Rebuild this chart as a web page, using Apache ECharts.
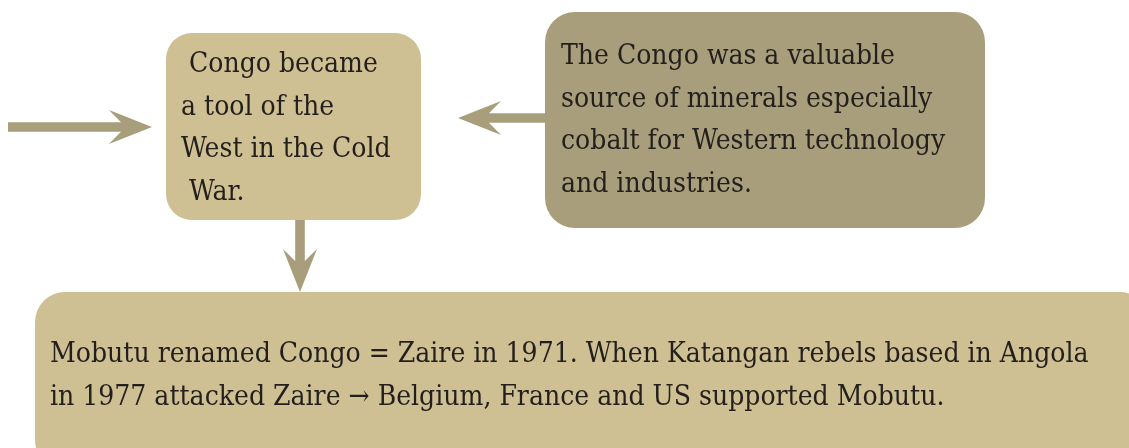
<!doctype html>
<html>
<head>
<meta charset="UTF-8">
<title>Congo</title>
<script src="https://cdn.jsdelivr.net/npm/echarts@6/dist/echarts.min.js"></script>
<style>
  html, body { margin: 0; padding: 0; background: #fff; }
  #main { width: 1129px; height: 448px; }
</style>
</head>
<body>
<div id="main"></div>
<script>
// text of each box, one entry per line
var boxNames = ['tool', 'minerals', 'zaire'];
var toolLines = [' Congo became', 'a tool of the', 'West in the Cold', ' War.'];
var mineralLines = ['The Congo was a valuable', 'source of minerals especially', 'cobalt for Western technology', 'and industries.'];
var zaireLines = ['Mobutu renamed Congo = Zaire in 1971. When Katangan rebels based in Angola',
                  'in 1977 attacked Zaire \u2192 Belgium, France and US supported Mobutu.'];
// arrows: from -> to
var arrowLinks = [['left', 'tool'], ['minerals', 'tool'], ['tool', 'zaire']];

// layout (pixels)
var boxLayout = {
  tool:     { x0: 166, y0: 33,  x1: 421,  y1: 220, r: 26, color: '#CFC094', tx: 181, ty: 79 },
  minerals: { x0: 545, y0: 12,  x1: 985,  y1: 228, r: 30, color: '#A99E7B', tx: 561, ty: 71 },
  zaire:    { x0: 35,  y0: 292, x1: 1150, y1: 470, r: 30, color: '#CFC094', tx: 50,  ty: 369 }
};
var arrowLayout = [
  { x0: 8,   y0: 127, x1: 152, y1: 127 },
  { x0: 545, y0: 118, x1: 458, y1: 118 },
  { x0: 300, y0: 220, x1: 300, y1: 292 }
];
var boxText = { tool: toolLines, minerals: mineralLines, zaire: zaireLines };
var lineGap = 42.5;
var fontFamily = '"DejaVu Serif Condensed", "Liberation Serif", serif';

var chart = echarts.init(document.getElementById('main'));

var boxData = boxNames.map(function (n) {
  var b = boxLayout[n];
  return { name: n, value: [b.x0, b.y0, b.x1, b.y1] };
});
var arrowData = arrowLinks.map(function (l, i) {
  var a = arrowLayout[i];
  return { name: l[0] + '-' + l[1], value: [a.x0, a.y0, a.x1, a.y1] };
});

function renderBox(params, api) {
  var n = boxNames[params.dataIndex];
  var b = boxLayout[n];
  var p0 = api.coord([api.value(0), api.value(1)]);
  var p1 = api.coord([api.value(2), api.value(3)]);
  var children = [{
    type: 'rect',
    shape: { x: p0[0], y: p0[1], width: p1[0] - p0[0], height: p1[1] - p0[1], r: b.r },
    style: { fill: b.color }
  }];
  boxText[n].forEach(function (t, i) {
    var tp = api.coord([b.tx, b.ty + i * lineGap]);
    children.push({
      type: 'text',
      style: {
        text: t, x: tp[0], y: tp[1],
        fill: '#231f1c',
        font: '28px ' + fontFamily,
        verticalAlign: 'bottom'
      }
    });
  });
  return { type: 'group', children: children };
}

function renderArrow(params, api) {
  var s = api.coord([api.value(0), api.value(1)]);
  var e = api.coord([api.value(2), api.value(3)]);
  var dx = e[0] - s[0], dy = e[1] - s[1];
  var len = Math.sqrt(dx * dx + dy * dy);
  var ux = dx / len, uy = dy / len;
  var px = -uy, py = ux;
  var hw = 4.8, headLen = 43, headW = 17, notch = 12;
  var bx = e[0] - ux * (headLen - notch), by = e[1] - uy * (headLen - notch);
  var pts = [
    [s[0] + px * hw, s[1] + py * hw],
    [bx + px * hw, by + py * hw],
    [e[0] - ux * headLen + px * headW, e[1] - uy * headLen + py * headW],
    [e[0], e[1]],
    [e[0] - ux * headLen - px * headW, e[1] - uy * headLen - py * headW],
    [bx - px * hw, by - py * hw],
    [s[0] - px * hw, s[1] - py * hw]
  ];
  return { type: 'polygon', shape: { points: pts }, style: { fill: '#A99E7B' } };
}

var option = {
  backgroundColor: '#ffffff',
  animation: false,
  grid: { left: 0, right: 0, top: 0, bottom: 0 },
  xAxis: { type: 'value', min: 0, max: 1129, show: false },
  yAxis: { type: 'value', min: 0, max: 448, inverse: true, show: false },
  series: [
    { type: 'custom', name: 'arrows', renderItem: renderArrow, data: arrowData, silent: true, clip: false, z: 1 },
    { type: 'custom', name: 'boxes', renderItem: renderBox, data: boxData, silent: true, clip: false, z: 2 }
  ]
};
chart.setOption(option);
</script>
</body>
</html>
